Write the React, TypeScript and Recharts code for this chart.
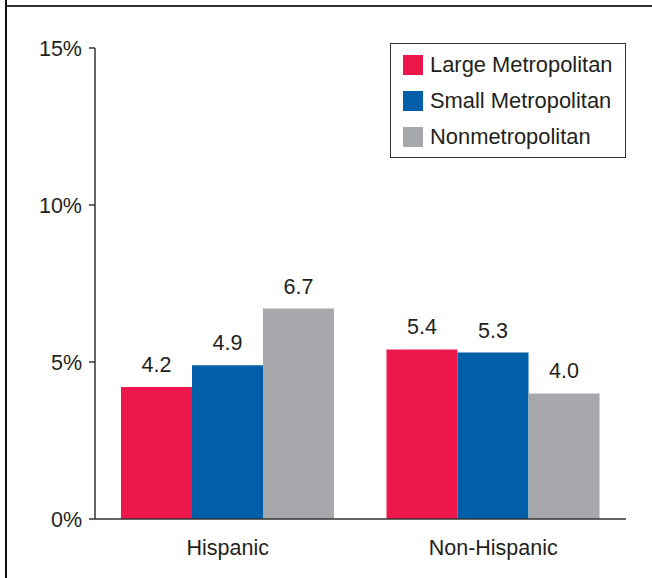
import React from "react";
import { BarChart, Bar, XAxis, YAxis, LabelList } from "recharts";

// Categories along the x-axis
const groups = ["Hispanic", "Non-Hispanic"];

// Percent values per series, in the same order as `groups`
const largeMetro = [4.2, 5.4];
const smallMetro = [4.9, 5.3];
const nonMetro = [6.7, 4.0];

// Series names and colours
const seriesNames = ["Large Metropolitan", "Small Metropolitan", "Nonmetropolitan"];
const seriesColors = ["#ED174B", "#005FA8", "#A7A8AB"];

// Y-axis ticks (percent)
const yTicks = [0, 5, 10, 15];

const data = groups.map((g, i) => ({
  group: g,
  large: largeMetro[i],
  small: smallMetro[i],
  non: nonMetro[i],
}));

const seriesKeys = ["large", "small", "non"];

const FONT = '"Liberation Sans", Arial, Helvetica, sans-serif';
const TEXT = "#231F20";
const AXIS = "#333333";
const FS = 21.5;
const LEGEND_FS = 21.9;

export default function App() {
  return (
    <div
      style={{
        position: "absolute",
        left: 0,
        top: 0,
        width: 652,
        height: 578,
        background: "#fff",
        fontFamily: FONT,
      }}
    >
      {/* frame lines */}
      <div style={{ position: "absolute", left: 5, top: 0, width: 2, height: 578, background: "#111" }} />
      <div style={{ position: "absolute", left: 7, top: 5, width: 645, height: 1.5, background: "#333" }} />

      <BarChart
        width={652}
        height={578}
        data={data}
        margin={{ top: 48, right: 26, bottom: 0, left: 0 }}
        barCategoryGap={26}
        barGap={0}
        style={{ position: "absolute", left: 0, top: 0 }}
      >
        <XAxis
          dataKey="group"
          height={59}
          tickLine={false}
          tickSize={6}
          tickMargin={15}
          axisLine={{ stroke: AXIS, strokeWidth: 1.5 }}
          tick={{ fill: TEXT, fontSize: FS, fontFamily: FONT }}
        />
        <YAxis
          width={95}
          domain={[0, 15]}
          ticks={yTicks}
          interval={0}
          tickFormatter={(v: number) => `${v}%`}
          tickSize={6}
          tickMargin={7}
          tickLine={{ stroke: AXIS, strokeWidth: 1.5 }}
          axisLine={{ stroke: AXIS, strokeWidth: 1.5 }}
          tick={{ fill: TEXT, fontSize: FS, fontFamily: FONT }}
        />
        {seriesKeys.map((k, i) => (
          <Bar key={k} dataKey={k} name={seriesNames[i]} fill={seriesColors[i]} isAnimationActive={false}>
            <LabelList
              dataKey={k}
              position="top"
              offset={15}
              formatter={(v: number) => v.toFixed(1)}
              style={{ fill: TEXT, fontSize: FS, fontFamily: FONT }}
            />
          </Bar>
        ))}
      </BarChart>

      {/* legend box */}
      <div
        style={{
          position: "absolute",
          left: 390,
          top: 43,
          width: 236,
          height: 115,
          boxSizing: "border-box",
          border: `1.5px solid ${AXIS}`,
          background: "#fff",
        }}
      >
        {seriesNames.map((name, i) => (
          <div
            key={name}
            style={{
              position: "absolute",
              left: 12,
              top: 11 + i * 36,
              height: 20,
              display: "flex",
              alignItems: "center",
              whiteSpace: "nowrap",
            }}
          >
            <div style={{ width: 20, height: 20, background: seriesColors[i] }} />
            <span style={{ marginLeft: 7, fontSize: LEGEND_FS, color: TEXT, lineHeight: "20px" }}>{name}</span>
          </div>
        ))}
      </div>
    </div>
  );
}
